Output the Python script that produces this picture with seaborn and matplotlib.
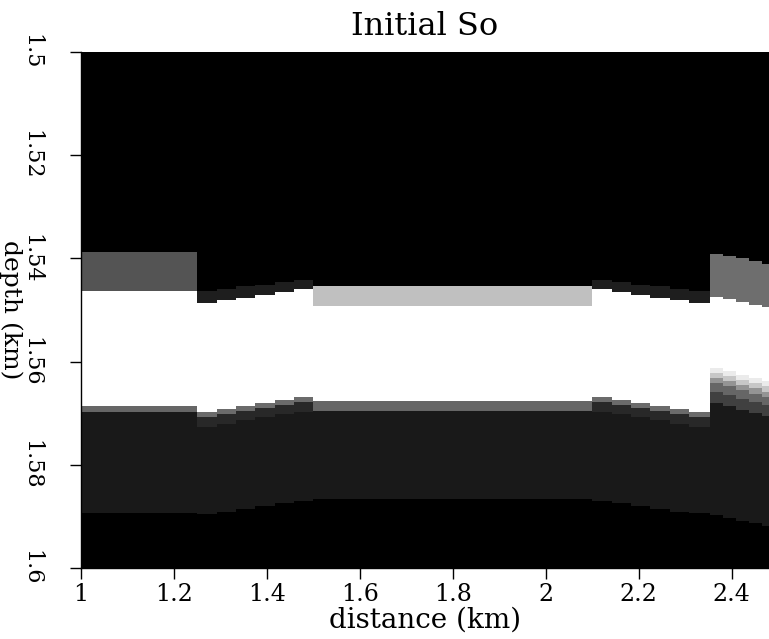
import numpy as np
import matplotlib
matplotlib.use("Agg")
import matplotlib.pyplot as plt
import seaborn as sns

# ---------------- data ----------------
# column edges along distance (km)
col_edges = [1.0, 1.25, 1.2917, 1.3333, 1.375, 1.4167, 1.4583, 1.5,
             2.1, 2.1417, 2.1833, 2.225, 2.2667, 2.3083, 2.353,
             2.38, 2.408, 2.436, 2.465, 2.48]

# top of the cap layer (km)
cap_top = [1.5388,
           1.5465, 1.5461, 1.5455, 1.5452, 1.5446, 1.5442,
           1.5455,
           1.5442, 1.5446, 1.5452, 1.5455, 1.5461, 1.5465,
           1.5392, 1.5397, 1.5401, 1.5407, 1.5411]
# base of the cap layer = top of the white layer (km)
cap_base = [1.5465,
            1.5486, 1.5481, 1.5477, 1.5471, 1.5467, 1.5461,
            1.5492,
            1.5461, 1.5467, 1.5471, 1.5477, 1.5481, 1.5486,
            1.5475, 1.5479, 1.5485, 1.5490, 1.5494]
# grey level of the cap layer
cap_val = [0.33,
           0.12, 0.12, 0.12, 0.12, 0.12, 0.12,
           0.75,
           0.12, 0.12, 0.12, 0.12, 0.12, 0.12,
           0.43, 0.43, 0.43, 0.43, 0.43]
# base of the white layer (km)
white_base = [1.5686,
              1.5698, 1.5692, 1.5686, 1.5680, 1.5674, 1.5669,
              1.5676,
              1.5669, 1.5674, 1.5680, 1.5686, 1.5692, 1.5698,
              1.5612, 1.5618, 1.5626, 1.5632, 1.5638]
# transition bands below the white layer: thickness (km) and grey level
band_thick = [[0.0012],
              [0.0010, 0.0019], [0.0010, 0.0019], [0.0010, 0.0019],
              [0.0010, 0.0019], [0.0010, 0.0019], [0.0010, 0.0019],
              [0.0021],
              [0.0010, 0.0019], [0.0010, 0.0019], [0.0010, 0.0019],
              [0.0010, 0.0019], [0.0010, 0.0019], [0.0010, 0.0019],
              [0.0010, 0.0010, 0.0010, 0.0017, 0.0021],
              [0.0010, 0.0010, 0.0010, 0.0017, 0.0021],
              [0.0010, 0.0010, 0.0010, 0.0017, 0.0021],
              [0.0010, 0.0010, 0.0010, 0.0017, 0.0021],
              [0.0010, 0.0010, 0.0010, 0.0017, 0.0021]]
band_val = [[0.40],
            [0.42, 0.16], [0.42, 0.16], [0.42, 0.16],
            [0.42, 0.16], [0.42, 0.16], [0.42, 0.16],
            [0.40],
            [0.42, 0.16], [0.42, 0.16], [0.42, 0.16],
            [0.42, 0.16], [0.42, 0.16], [0.42, 0.16],
            [0.92, 0.78, 0.58, 0.40, 0.25],
            [0.92, 0.78, 0.58, 0.40, 0.25],
            [0.92, 0.78, 0.58, 0.40, 0.25],
            [0.92, 0.78, 0.58, 0.40, 0.25],
            [0.92, 0.78, 0.58, 0.40, 0.25]]
# base of the dark layer (km)
dark_base = [1.5895,
             1.5897, 1.5892, 1.5886, 1.5880, 1.5874, 1.5870,
             1.5866,
             1.5870, 1.5874, 1.5880, 1.5886, 1.5892, 1.5895,
             1.5899, 1.5905, 1.5909, 1.5913, 1.5919]
dark_val = 0.10

x_ticks = [1.0, 1.2, 1.4, 1.6, 1.8, 2.0, 2.2, 2.4]
x_tick_labels = ["1", "1.2", "1.4", "1.6", "1.8", "2", "2.2", "2.4"]
z_ticks = [1.5, 1.52, 1.54, 1.56, 1.58, 1.6]
z_tick_labels = ["1.5", "1.52", "1.54", "1.56", "1.58", "1.6"]

# ---------------- build the image grid ----------------
x0, x1 = 1.0, 2.48
z0, z1 = 1.5, 1.6
dx, dz = 0.001, 0.0002
xc = x0 + (np.arange(int(round((x1 - x0) / dx))) + 0.5) * dx
zc = z0 + (np.arange(int(round((z1 - z0) / dz))) + 0.5) * dz

grid = np.zeros((len(zc), len(xc)))
col_idx = np.clip(np.searchsorted(col_edges, xc, side="right") - 1, 0, len(cap_top) - 1)
for j, c in enumerate(col_idx):
    prof = np.zeros(len(zc))
    prof[(zc >= cap_top[c]) & (zc < cap_base[c])] = cap_val[c]
    prof[(zc >= cap_base[c]) & (zc < white_base[c])] = 1.0
    top = white_base[c]
    for t, v in zip(band_thick[c], band_val[c]):
        prof[(zc >= top) & (zc < top + t)] = v
        top += t
    prof[(zc >= top) & (zc < dark_base[c])] = dark_val
    grid[:, j] = prof

# ---------------- plot ----------------
sns.set_style("ticks")
plt.rcParams["font.family"] = ["DejaVu Serif"]
plt.rcParams["text.color"] = "black"
plt.rcParams["xtick.color"] = "black"
plt.rcParams["ytick.color"] = "black"
plt.rcParams["axes.labelcolor"] = "black"

fig = plt.figure(figsize=(7.69, 6.39), dpi=100)
ax = fig.add_axes([81 / 769, 1 - 568 / 639, 688 / 769, 516 / 639])
sns.heatmap(grid, ax=ax, cmap="gray", vmin=0, vmax=1, cbar=False,
            xticklabels=False, yticklabels=False, rasterized=True)

ax.set_xlim(0, len(xc))
ax.set_ylim(len(zc), 0)
ax.set_xticks([(t - x0) / dx for t in x_ticks])
ax.set_xticklabels(x_tick_labels, fontsize=17)
ax.set_yticks([(t - z0) / dz for t in z_ticks])
ax.set_yticklabels(z_tick_labels, fontsize=16, rotation=270, va="center")
ax.tick_params(axis="both", direction="out", length=8, width=1, color="black")
ax.tick_params(axis="x", pad=3)
ax.tick_params(axis="y", pad=20)

for side in ["left", "bottom"]:
    ax.spines[side].set_visible(True)
    ax.spines[side].set_color("black")
    ax.spines[side].set_linewidth(1.0)

ax.set_xlabel("distance (km)", fontsize=20, labelpad=0)
ax.set_ylabel("depth (km)", fontsize=18, rotation=270, va="center", ha="center")
ax.yaxis.set_label_coords(-0.102, 0.5)
ax.set_title("Initial So", fontsize=23, pad=12)

fig.savefig("out.png", dpi=100)
